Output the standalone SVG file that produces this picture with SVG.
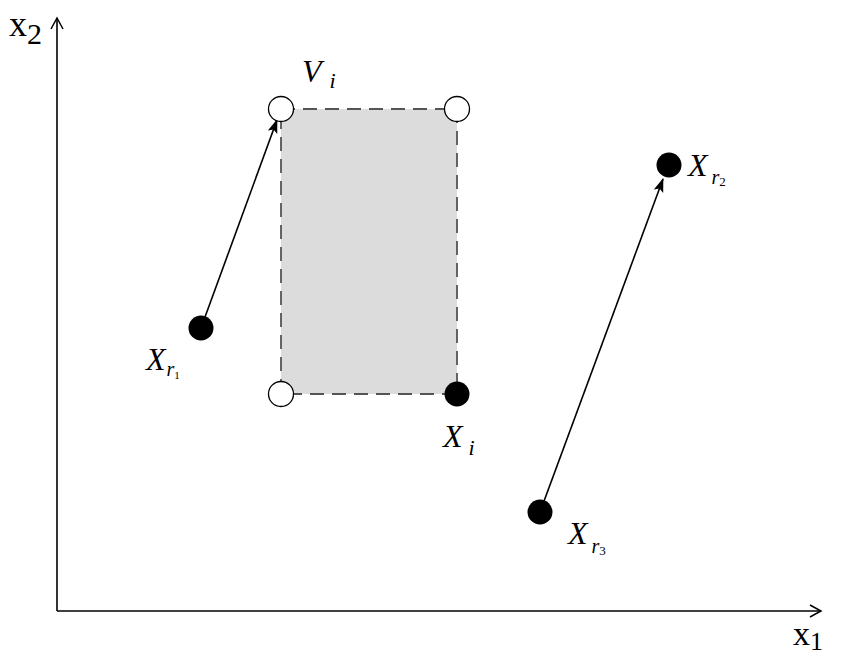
<svg xmlns="http://www.w3.org/2000/svg" width="853" height="661" viewBox="0 0 853 661">
<style>
.open{fill:#fff;stroke:#000;stroke-width:1.3}
.fill{fill:#000}
.line{stroke:#000;stroke-width:1.6;fill:none}
</style>
<defs>
<marker id="ah" markerWidth="14" markerHeight="12" refX="13" refY="6" orient="auto" markerUnits="userSpaceOnUse">
<path d="M0,1 L14,6 L0,11 L3,6 Z" fill="#000"/>
</marker>
<marker id="oa" markerWidth="14" markerHeight="14" refX="12" refY="7" orient="auto" markerUnits="userSpaceOnUse">
<path d="M1,1 L12,7 L1,13" fill="none" stroke="#000" stroke-width="1.5"/>
</marker>
</defs>
<rect width="853" height="661" fill="#fff"/>
<g id="axes">
<line class="line" x1="57" y1="611" x2="57" y2="18" marker-end="url(#oa)"/>
<line class="line" x1="57" y1="611" x2="821" y2="611" marker-end="url(#oa)"/>
<text font-family="Liberation Serif, DejaVu Serif, serif" x="9" y="36" font-size="36">x<tspan font-size="30" dy="8">2</tspan></text>
<text font-family="Liberation Serif, DejaVu Serif, serif" x="793" y="645" font-size="34">x<tspan font-size="26" dy="5">1</tspan></text>
</g>
<g id="region">
<rect x="281" y="109" width="176" height="285" fill="#dcdcdc" stroke="#555" stroke-width="1.8" stroke-dasharray="14,8"/>
</g>
<g id="connectors">
<line class="line" x1="201" y1="328" x2="277" y2="120" marker-end="url(#ah)"/>
<line class="line" x1="540" y1="512" x2="663" y2="179" marker-end="url(#ah)"/>
</g>
<g id="Vi">
<circle class="open" cx="281" cy="109" r="12.5"/>
<text font-family="Liberation Serif, DejaVu Serif, serif" font-style="italic" x="302" y="82" font-size="32">V<tspan font-size="22" dx="8" dy="6">i</tspan></text>
</g>
<g id="V2"><circle class="open" cx="457" cy="109" r="12.5"/></g>
<g id="V3"><circle class="open" cx="281" cy="394" r="12.5"/></g>
<g id="Xi">
<circle class="fill" cx="457" cy="394" r="12.5"/>
<text font-family="Liberation Serif, DejaVu Serif, serif" font-style="italic" x="443" y="447" font-size="32">X<tspan font-size="22" dx="6" dy="8">i</tspan></text>
</g>
<g id="Xr1">
<circle class="fill" cx="201" cy="328" r="12.5"/>
<text font-family="Liberation Serif, DejaVu Serif, serif" font-style="italic" x="146" y="370" font-size="32">X<tspan font-size="20" dx="1" dy="6">r</tspan><tspan font-size="11" dy="3" font-style="normal">1</tspan></text>
</g>
<g id="Xr2">
<circle class="fill" cx="669" cy="165" r="12.5"/>
<text font-family="Liberation Serif, DejaVu Serif, serif" font-style="italic" x="688" y="176" font-size="32">X<tspan font-size="20" dx="4" dy="8">r</tspan><tspan font-size="13" dy="2" font-style="normal">2</tspan></text>
</g>
<g id="Xr3">
<circle class="fill" cx="540" cy="512" r="12.5"/>
<text font-family="Liberation Serif, DejaVu Serif, serif" font-style="italic" x="568" y="544" font-size="32">X<tspan font-size="20" dx="4" dy="9">r</tspan><tspan font-size="13" dy="2" font-style="normal">3</tspan></text>
</g>
</svg>
